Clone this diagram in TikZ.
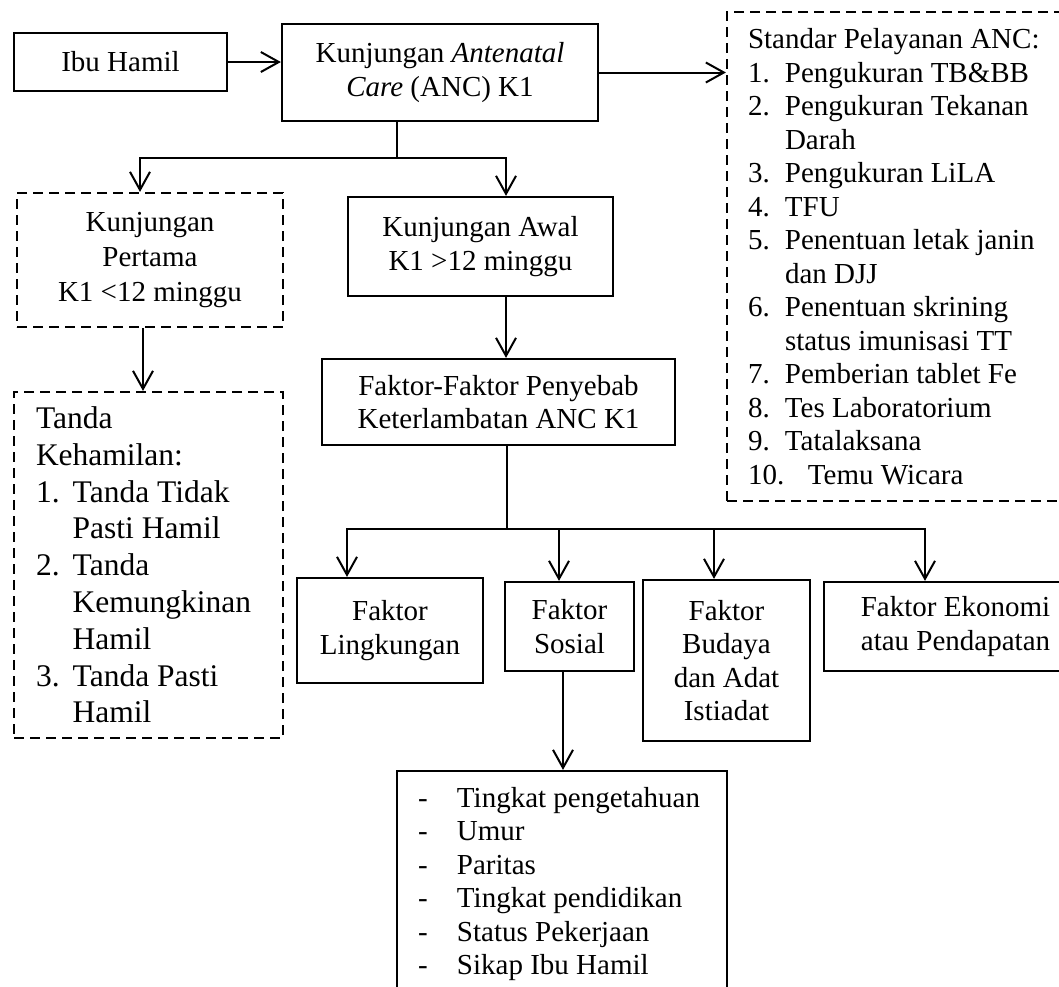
\documentclass[tikz,border=0pt]{standalone}
\usepackage{fontspec}
\setmainfont{Liberation Serif}
\usetikzlibrary{arrows.meta}
\newcommand\mainfs{\fontsize{14.5pt}{16.75pt}\selectfont}
\newcommand\bigfs{\fontsize{15.75pt}{18.4pt}\selectfont}
\tikzset{
  box/.style={draw, line width=1.1pt, align=center, inner sep=0pt, font=\mainfs},
  dbox/.style={box, dash pattern=on 5pt off 3pt},
  ln/.style={line width=1pt},
  arr/.style={line width=1pt, -{Straight Barb[length=9pt,width=10pt,line width=1pt]}},
}
\begin{document}
\begin{tikzpicture}[x=0.5pt,y=-0.5pt]
\useasboundingbox (0,0) rectangle (1059,986);
\clip (0,0) rectangle (1059,986);

\node[box, minimum width=106.5pt, minimum height=29pt] (ibu) at (120.5,62) {Ibu Hamil};
\node[box, minimum width=158pt, minimum height=48.5pt, font=\fontsize{14.5pt}{17pt}\selectfont] (anc) at (440,72.5)
  {Kunjungan \textit{Antenatal}\\\textit{Care} (ANC) K1};
\node[dbox, align=flush left, text width=165pt, inner xsep=10.5pt, minimum height=244.5pt] (std) at (913,256.5)
  {Standar Pelayanan ANC:\\
   \makebox[18.5pt][l]{1.}Pengukuran TB\&BB\\
   \makebox[18.5pt][l]{2.}Pengukuran Tekanan\\
   \hspace*{18.5pt}Darah\\
   \makebox[18.5pt][l]{3.}Pengukuran LiLA\\
   \makebox[18.5pt][l]{4.}TFU\\
   \makebox[18.5pt][l]{5.}Penentuan letak janin\\
   \hspace*{18.5pt}dan DJJ\\
   \makebox[18.5pt][l]{6.}Penentuan skrining\\
   \hspace*{18.5pt}status imunisasi TT\\
   \makebox[18.5pt][l]{7.}Pemberian tablet Fe\\
   \makebox[18.5pt][l]{8.}Tes Laboratorium\\
   \makebox[18.5pt][l]{9.}Tatalaksana\\
   \makebox[30pt][l]{10.}Temu Wicara};
\node[dbox, minimum width=133pt, minimum height=67pt, font=\fontsize{14.5pt}{17.5pt}\selectfont] (pert) at (150,260)
  {Kunjungan\\Pertama\\K1 {<}12 minggu};
\node[dbox, align=flush left, text width=112.5pt, inner xsep=11pt, minimum height=173pt, font=\bigfs] (tanda) at (148.5,565)
  {Tanda\\
   Kehamilan:\\
   \makebox[18.35pt][l]{1.}Tanda Tidak\\
   \hspace*{18.35pt}Pasti Hamil\\
   \makebox[18.35pt][l]{2.}Tanda\\
   \hspace*{18.35pt}Kemungkinan\\
   \hspace*{18.35pt}Hamil\\
   \makebox[18.35pt][l]{3.}Tanda Pasti\\
   \hspace*{18.35pt}Hamil};
\node[box, minimum width=132.5pt, minimum height=49.5pt] (awal) at (480.5,246.5)
  {Kunjungan Awal\\K1 {>}12 minggu};
\node[box, minimum width=176.5pt, minimum height=43pt] (fak) at (498.5,402)
  {Faktor-Faktor Penyebab\\Keterlambatan ANC K1};
\node[box, minimum width=93pt, minimum height=52.5pt] (ling) at (390,630.5)
  {Faktor\\Lingkungan};
\node[box, minimum width=64.5pt, minimum height=44.5pt] (sos) at (569.5,626.5)
  {Faktor\\Sosial};
\node[box, minimum width=83.5pt, minimum height=80.5pt] (bud) at (726.5,660.5)
  {Faktor\\Budaya\\dan Adat\\Istiadat};
\node[box, minimum width=131.5pt, minimum height=44.5pt] (eko) at (955.5,626.5)
  {Faktor Ekonomi\\atau Pendapatan};
\node[box, align=flush left, text width=144pt, inner xsep=10.5pt, minimum height=113pt] (list) at (562,884)
  {\makebox[19.5pt][l]{-}Tingkat pengetahuan\\
   \makebox[19.5pt][l]{-}Umur\\
   \makebox[19.5pt][l]{-}Paritas\\
   \makebox[19.5pt][l]{-}Tingkat pendidikan\\
   \makebox[19.5pt][l]{-}Status Pekerjaan\\
   \makebox[19.5pt][l]{-}Sikap Ibu Hamil};

% connectors
\draw[arr] (ibu.east) -- (ibu.east -| anc.west);
\draw[arr] (anc.east) -- (anc.east -| std.west);

\coordinate (j1) at (397,158);
\coordinate (b1) at (140,158);
\coordinate (b2) at (506,158);
\draw[ln] (j1 |- anc.south) -- (j1);
\draw[arr] (j1) -- (b1) -- (b1 |- pert.north);
\draw[arr] (j1) -- (b2) -- (b2 |- awal.north);

\coordinate (c0) at (143,0);
\draw[arr] (pert.south -| c0) -- (tanda.north -| c0);
\draw[arr] (awal.south -| b2) -- (fak.north -| b2);

\coordinate (j2) at (507,528.5);
\coordinate (c1) at (347,528.5);
\coordinate (c2) at (559,528.5);
\coordinate (c3) at (714,528.5);
\coordinate (c4) at (925,528.5);
\draw[ln] (fak.south -| j2) -- (j2);
\draw[arr] (j2) -- (c1) -- (c1 |- ling.north);
\draw[arr] (j2) -- (c4) -- (c4 |- eko.north);
\draw[arr] (c2) -- (c2 |- sos.north);
\draw[arr] (c3) -- (c3 |- bud.north);

\coordinate (c5) at (563,0);
\draw[arr] (sos.south -| c5) -- (list.north -| c5);
\end{tikzpicture}
\end{document}
